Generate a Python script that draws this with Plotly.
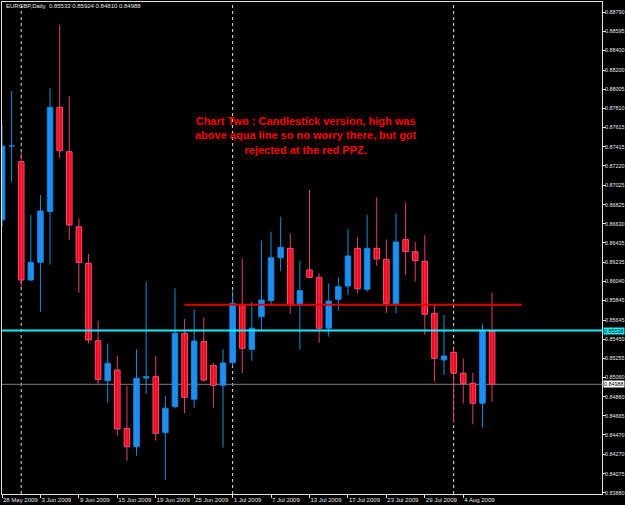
import plotly.graph_objects as go

# ---- data (EURGBP daily, 28 May 2009 .. 7 Aug 2009) ----
bar_index = list(range(52))
opens = [0.86668, 0.87424, 0.87264, 0.86054, 0.86235, 0.86753, 0.87820, 0.87366, 0.86599, 0.86225,
         0.85434, 0.85025, 0.85134, 0.84538, 0.84350, 0.85052, 0.85066, 0.84493, 0.84759, 0.85510,
         0.84835, 0.85424, 0.85182, 0.84978, 0.85209, 0.85799, 0.85346, 0.85679, 0.85843, 0.86282,
         0.86378, 0.85799, 0.86157, 0.86082, 0.85561, 0.85857, 0.85993, 0.86378, 0.85959, 0.86378,
         0.86266, 0.85809, 0.86470, 0.86344, 0.86246, 0.85714, 0.85237, 0.85315, 0.85101, 0.84998,
         0.84794, 0.85533]
highs = [0.87652, 0.87987, 0.87366, 0.86719, 0.86923, 0.88014, 0.88661, 0.87938, 0.86685, 0.86320,
         0.85638, 0.85407, 0.85281, 0.84974, 0.85346, 0.86037, 0.85277, 0.84869, 0.85970, 0.85656,
         0.85755, 0.85673, 0.85209, 0.85346, 0.85947, 0.86276, 0.85833, 0.86453, 0.86548, 0.86702,
         0.86532, 0.86252, 0.86974, 0.86123, 0.86021, 0.86082, 0.86576, 0.86491, 0.86719, 0.86900,
         0.86468, 0.86736, 0.86845, 0.86443, 0.86514, 0.85816, 0.85697, 0.85356, 0.85254, 0.85107,
         0.85605, 0.85924]
lows = [0.86596, 0.87056, 0.85986, 0.86044, 0.85727, 0.86210, 0.87299, 0.86463, 0.85925, 0.85407,
        0.84991, 0.84800, 0.84463, 0.84207, 0.84258, 0.84889, 0.84412, 0.84010, 0.84743, 0.84692,
        0.84743, 0.85015, 0.84749, 0.84340, 0.85168, 0.85101, 0.85229, 0.85536, 0.85799, 0.86146,
        0.85707, 0.85346, 0.86075, 0.85413, 0.85475, 0.85741, 0.85901, 0.85918, 0.85935, 0.86198,
        0.85717, 0.85714, 0.86105, 0.86037, 0.85492, 0.85015, 0.85083, 0.84606, 0.84794, 0.84579,
        0.84545, 0.84810]
closes = [0.87424, 0.87426, 0.86054, 0.86235, 0.86760, 0.87820, 0.87376, 0.86617, 0.86235, 0.85441,
          0.85039, 0.85203, 0.84531, 0.84350, 0.85050, 0.85066, 0.84487, 0.84743, 0.85510, 0.84855,
          0.85431, 0.85032, 0.84978, 0.85206, 0.85816, 0.85356, 0.85561, 0.85850, 0.86282, 0.86389,
          0.85799, 0.85945, 0.86082, 0.85561, 0.85840, 0.85986, 0.86300, 0.85965, 0.86378, 0.86269,
          0.85816, 0.86443, 0.86344, 0.86252, 0.85704, 0.85254, 0.85277, 0.85101, 0.84998, 0.84794,
          0.85533, 0.84988]

date_tick_index = [0, 4, 8, 12, 16, 20, 24, 28, 32, 36, 40, 44, 48]
date_tick_text = ["28 May 2009", "3 Jun 2009", "9 Jun 2009", "15 Jun 2009", "19 Jun 2009",
                  "25 Jun 2009", "1 Jul 2009", "7 Jul 2009", "13 Jul 2009", "17 Jul 2009",
                  "23 Jul 2009", "29 Jul 2009", "4 Aug 2009"]
month_start_index = [2, 24, 47]

price_ticks = [0.88790, 0.88595, 0.88400, 0.88200, 0.88005, 0.87810, 0.87615, 0.87415, 0.87220,
               0.87025, 0.86825, 0.86630, 0.86435, 0.86235, 0.86040, 0.85845, 0.85645, 0.85450,
               0.85255, 0.85060, 0.84860, 0.84665, 0.84470, 0.84270, 0.84075, 0.83880]

aqua_level = 0.85538
ppz_level = 0.85802
ppz_from, ppz_to = 19, 54.1
symbol_title = "EURGBP,Daily  0.85533 0.85924 0.84810 0.84988"
note_lines = ["Chart Two : Candlestick version, high was",
              "above aqua line so no worry there, but got",
              "rejected at the red PPZ."]

# ---- styles ----
BULL = "#1e90ff"
BULL_WICK = "#1b8fd0"
BEAR = "#ff0000"
BEAR_WICK = "#d8407a"
BEAR_EDGE = "#f0508a"
AXIS_FONT = dict(family="Liberation Sans", size=6, color="#e8e8e8")
YAXIS_FONT = dict(family="Liberation Sans", size=5.4, color="#e8e8e8")

fig = go.Figure()

bull = [i for i in bar_index if closes[i] >= opens[i]]
bear = [i for i in bar_index if closes[i] < opens[i]]


def wick_xy(ids):
    xs, ys = [], []
    for i in ids:
        xs += [i, i, None]
        ys += [lows[i], highs[i], None]
    return xs, ys


for ids, col in ((bull, BULL_WICK), (bear, BEAR_WICK)):
    xs, ys = wick_xy(ids)
    fig.add_trace(go.Scatter(x=xs, y=ys, mode="lines", line=dict(color=col, width=1),
                             hoverinfo="skip"))

MIN_H = 0.00002
fig.add_trace(go.Bar(x=bull, base=[opens[i] for i in bull],
                     y=[max(closes[i] - opens[i], MIN_H) for i in bull],
                     width=0.58, marker=dict(color=BULL, line=dict(color="#1a7fd8", width=1))))
fig.add_trace(go.Bar(x=bear, base=[closes[i] for i in bear],
                     y=[max(opens[i] - closes[i], MIN_H) for i in bear],
                     width=0.58, marker=dict(color=BEAR, line=dict(color=BEAR_EDGE, width=1))))

shapes = []
for m in month_start_index:
    shapes.append(dict(type="line", xref="x", yref="paper", x0=m, x1=m, y0=0, y1=1,
                       line=dict(color="#e0e0e0", width=1, dash="dot"), layer="below"))
shapes.append(dict(type="line", xref="paper", yref="y", x0=0, x1=1, y0=closes[-1], y1=closes[-1],
                   line=dict(color="#808080", width=1), layer="below"))
shapes.append(dict(type="line", xref="paper", yref="y", x0=0, x1=1, y0=aqua_level, y1=aqua_level,
                   line=dict(color="#10f0f8", width=2), layer="above"))
shapes.append(dict(type="line", xref="x", yref="y", x0=ppz_from, x1=ppz_to, y0=ppz_level, y1=ppz_level,
                   line=dict(color="#e00000", width=2), layer="above"))

annotations = [
    dict(xref="paper", yref="paper", x=0.003, y=0.992, xanchor="left", yanchor="middle",
         text=symbol_title, showarrow=False, font=AXIS_FONT),
    dict(xref="paper", yref="paper", x=0.507, y=0.728, xanchor="center", yanchor="middle",
         text="<br>".join(note_lines), showarrow=False, align="center",
         font=dict(family="Liberation Sans", size=11, color="#ff0000", weight="bold")),
    dict(xref="paper", yref="y", x=1, y=aqua_level, xanchor="left", yanchor="middle", xshift=1,
         text=f"{aqua_level:.5f}", showarrow=False, bgcolor="#10f0f8", borderpad=0,
         font=dict(family="Liberation Sans", size=5.4, color="black")),
    dict(xref="paper", yref="y", x=1, y=closes[-1], xanchor="left", yanchor="middle", xshift=1,
         text=f"{closes[-1]:.5f}", showarrow=False, bgcolor="white", borderpad=0,
         font=dict(family="Liberation Sans", size=5.4, color="black")),
]

fig.update_layout(
    width=625, height=505, margin=dict(l=2, r=23, t=2, b=11),
    paper_bgcolor="black", plot_bgcolor="black", showlegend=False, barmode="overlay",
    shapes=shapes, annotations=annotations, hovermode=False,
)
fig.update_xaxes(range=[-0.001, 62.44], tickvals=date_tick_index, ticktext=date_tick_text,
                 tickangle=0, automargin=False,
                 ticks="outside", ticklen=3, tickcolor="#e0e0e0", ticklabelposition="outside right",
                 showline=True, linecolor="#e0e0e0", linewidth=1, mirror=True,
                 showgrid=False, zeroline=False, tickfont=AXIS_FONT, fixedrange=True)
fig.update_yaxes(side="right", range=[0.838667, 0.888963], tickvals=price_ticks,
                 ticktext=[f"{v:.5f}" for v in price_ticks], automargin=False,
                 ticks="outside", ticklen=3, tickcolor="#e0e0e0", ticklabelstandoff=-2,
                 showline=True, linecolor="#e0e0e0", linewidth=1, mirror=True,
                 showgrid=False, zeroline=False, tickfont=YAXIS_FONT, fixedrange=True)

fig.write_html("out.html")
